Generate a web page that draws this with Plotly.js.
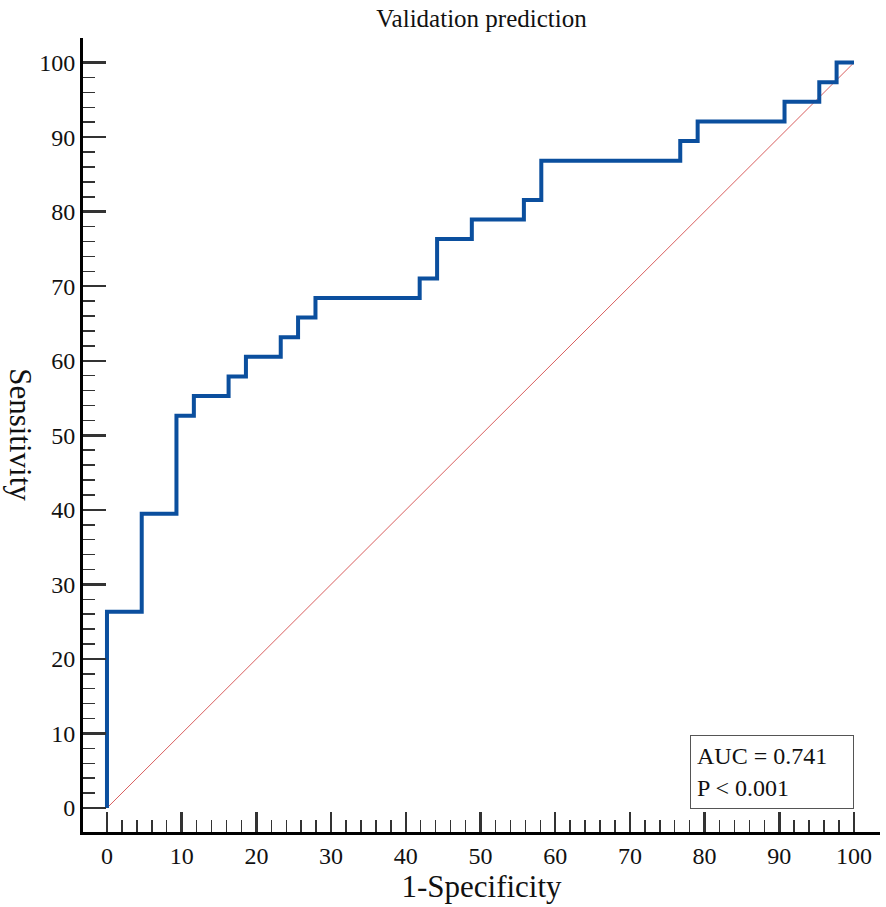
<!DOCTYPE html>
<html>
<head>
<meta charset="utf-8">
<script src="https://cdn.plot.ly/plotly-3.0.1.min.js"></script>
<style>
  html, body { margin: 0; padding: 0; background: #fff; }
  #chart { width: 886px; height: 907px; }
</style>
</head>
<body>
<div id="chart"></div>
<script>
// ROC step points (1-Specificity %, Sensitivity %)
const fpr = [0, 0, 4.65, 9.30, 11.63, 16.28, 18.60, 23.26, 25.58, 27.91, 41.86,
             44.19, 48.84, 55.81, 58.14, 76.74, 79.07, 90.70, 95.35, 97.67, 100];
const tpr = [0, 26.32, 39.47, 52.63, 55.26, 57.89, 60.53, 63.16, 65.79, 68.42, 71.05,
             76.32, 78.95, 81.58, 86.84, 89.47, 92.11, 94.74, 97.37, 100, 100];

// reference diagonal
const diagX = [0, 100];
const diagY = [0, 100];

const tickVals = [0, 10, 20, 30, 40, 50, 60, 70, 80, 90, 100];
const tickLabels = ['0', '10', '20', '30', '40', '50', '60', '70', '80', '90', '100'];
const minorVals = [2, 4, 6, 8, 12, 14, 16, 18, 22, 24, 26, 28, 32, 34, 36, 38, 42, 44, 46, 48,
                   52, 54, 56, 58, 62, 64, 66, 68, 72, 74, 76, 78, 82, 84, 86, 88, 92, 94, 96, 98];

const aucText = 'AUC = 0.741';
const pText = 'P &lt; 0.001';

const SERIF = '"Liberation Serif", "Times New Roman", serif';

const AXIS = {
    showline: true,
    linecolor: '#000',
    linewidth: 3,
    showgrid: false,
    zeroline: false,
    ticks: 'inside',
    tickmode: 'array',
    tickvals: tickVals,
    ticktext: tickLabels,
    tickcolor: '#333',
    tickwidth: 2.5,
    tickfont: { family: SERIF, size: 24, color: '#111' },
    minor: {
        tickmode: 'array',
        tickvals: minorVals,
        ticks: 'inside',
        ticklen: 12,
        tickwidth: 1.5,
        tickcolor: '#333',
        showgrid: false,
    },
    fixedrange: true,
};

const diagonal = {
    x: diagX,
    y: diagY,
    type: 'scatter',
    mode: 'lines',
    line: { color: '#d95f5f', width: 1 },
    hoverinfo: 'skip',
};

const roc = {
    x: fpr,
    y: tpr,
    type: 'scatter',
    mode: 'lines',
    line: { color: '#0b4f9e', width: 4, shape: 'hv' },
};

const layout = {
    width: 886,
    height: 907,
    paper_bgcolor: '#fff',
    plot_bgcolor: '#fff',
    showlegend: false,
    margin: { l: 83, r: 6, t: 38, b: 75 },
    font: { family: SERIF, color: '#111' },
    title: {
        text: 'Validation prediction',
        font: { family: SERIF, size: 25, color: '#111' },
        x: 0.5, xref: 'paper',
        y: 0.99, yref: 'container', yanchor: 'top',
    },
    xaxis: {
        ...AXIS,
        range: [-3.21, 103.48],
        ticklen: 20,
        title: { text: '1-Specificity', font: { family: SERIF, size: 31, color: '#111' }, standoff: 2 },
    },
    yaxis: {
        ...AXIS,
        range: [-3.22, 103.3],
        ticklen: 23,
    },
    annotations: [
        {
            text: 'Sensitivity',
            textangle: 90,
            xref: 'paper', yref: 'paper',
            x: -0.078, y: 0.5,
            xanchor: 'center', yanchor: 'middle',
            showarrow: false,
            font: { family: SERIF, size: 31, color: '#111' },
        },
        {
            text: aucText + '<br>' + pText,
            xref: 'x', yref: 'y',
            x: 100, y: -0.1,
            xanchor: 'right', yanchor: 'bottom',
            showarrow: false,
            align: 'left',
            width: 150, height: 60,
            borderpad: 6,
            bordercolor: '#555',
            borderwidth: 1,
            bgcolor: '#fff',
            font: { family: SERIF, size: 24, color: '#111' },
        },
    ],
};

Plotly.newPlot('chart', [diagonal, roc], layout, { displayModeBar: false, staticPlot: true });
</script>
</body>
</html>
